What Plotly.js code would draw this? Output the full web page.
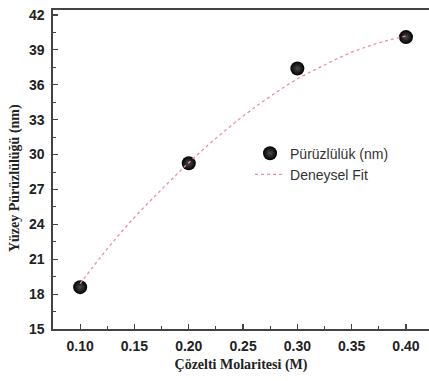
<!DOCTYPE html>
<html>
<head>
<meta charset="utf-8">
<script src="https://cdn.plot.ly/plotly-3.0.1.min.js"></script>
<style>html,body{margin:0;padding:0;background:#fff;}#chart{width:429px;height:381px;}</style>
</head>
<body>
<div id="chart"></div>
<script>
// Measured data
const molarity = [0.10, 0.20, 0.30, 0.40];
const roughness = [18.6, 29.25, 37.4, 40.1];
// Fit curve values
const fitX = [0.10, 0.125, 0.15, 0.175, 0.20, 0.225, 0.25, 0.275, 0.30, 0.325, 0.35, 0.375, 0.40];
const fitY = [18.9, 21.9, 24.6, 27.0, 29.3, 31.4, 33.3, 35.0, 36.5, 37.7, 38.8, 39.6, 40.2];
const yTicks = [15, 18, 21, 24, 27, 30, 33, 36, 39, 42];
const xTicks = [0.10, 0.15, 0.20, 0.25, 0.30, 0.35, 0.40];
const xTickText = ['0.10', '0.15', '0.20', '0.25', '0.30', '0.35', '0.40'];

const traces = [
  {
    x: molarity, y: roughness, type: 'scatter', mode: 'markers',
    name: 'Pürüzlülük (nm)',
    marker: {size: 14, color: '#000', gradient: {type: 'radial', color: '#4a4a4a'}, line: {width: 0}}
  },
  {
    x: fitX, y: fitY, type: 'scatter', mode: 'lines',
    name: 'Deneysel Fit',
    line: {color: '#f08ca0', width: 1.3, dash: 'dot', shape: 'spline'}
  }
];

const tickFont = {family: 'Liberation Sans, Arial, sans-serif', size: 14, color: '#222', weight: 'bold'};
const titleFont = {family: 'Liberation Serif, Times New Roman, serif', size: 14, color: '#222', weight: 'bold'};

const layout = {
  width: 429, height: 381,
  margin: {l: 53, r: 0, t: 10, b: 52},
  paper_bgcolor: '#fff', plot_bgcolor: '#fff',
  showlegend: true,
  legend: {x: 0.524, y: 0.6, xanchor: 'left', yanchor: 'top', bgcolor: 'rgba(0,0,0,0)',
    font: {family: 'Liberation Sans, Arial, sans-serif', size: 14, color: '#333'}, tracegroupgap: 0},
  xaxis: {
    range: [0.075, 0.4212], tickvals: xTicks, ticktext: xTickText,
    ticks: 'inside', ticklen: 5, tickwidth: 1.2, tickcolor: '#444',
    minor: {ticks: 'inside', ticklen: 3, tickwidth: 1, tickcolor: '#444', dtick: 0.025, tick0: 0.075},
    showline: true, linecolor: '#444', linewidth: 1.6, mirror: true,
    showgrid: false, zeroline: false, tickfont: tickFont, ticklabelstandoff: 4,
    title: {text: 'Çözelti Molaritesi (M)', font: titleFont, standoff: 6}
  },
  yaxis: {
    range: [15, 42.43], tickvals: yTicks,
    ticks: 'inside', ticklen: 5, tickwidth: 1.2, tickcolor: '#444',
    minor: {ticks: 'inside', ticklen: 3, tickwidth: 1, tickcolor: '#444', dtick: 1.5, tick0: 15},
    showline: true, linecolor: '#444', linewidth: 1.6,
    showgrid: false, zeroline: false, tickfont: tickFont, ticklabelstandoff: 4
  },
  annotations: [{
    text: 'Yüzey Pürüzlülüğü (nm)', textangle: -90, showarrow: false,
    xref: 'paper', yref: 'paper', x: 0, y: 0.473, xanchor: 'center', yanchor: 'middle',
    xshift: -38, font: titleFont
  }]
};

Plotly.newPlot('chart', traces, layout, {displayModeBar: false, staticPlot: true});
</script>
</body>
</html>
